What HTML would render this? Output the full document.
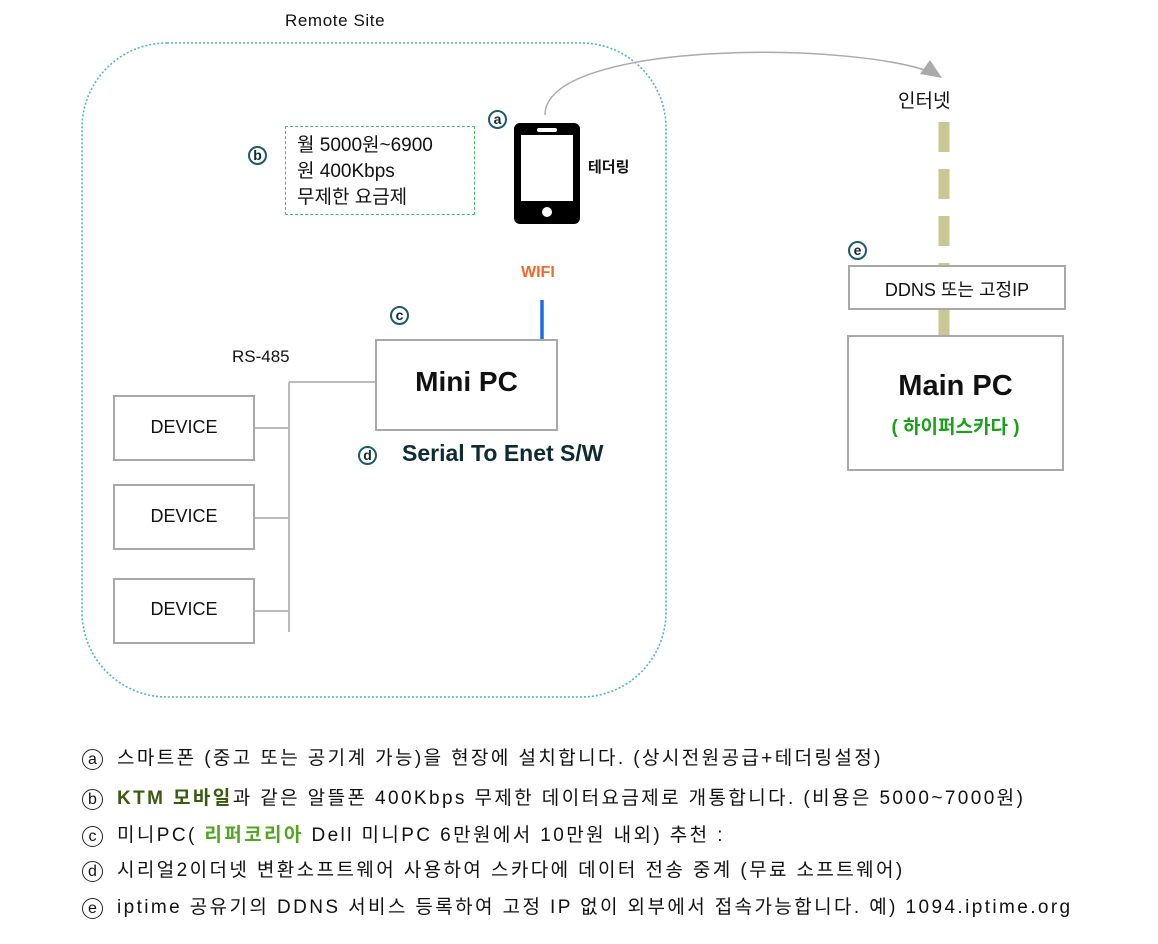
<!DOCTYPE html>
<html><head><meta charset="utf-8"><style>
body{margin:0;width:1158px;height:944px;background:#fff;position:relative;overflow:hidden;font-family:"Liberation Sans","Noto Sans CJK KR",sans-serif;color:#111}
.a{position:absolute;white-space:nowrap}
.box{position:absolute;border:2px solid #a8a8a8;background:#fff;box-sizing:border-box}
.c{position:absolute;width:19px;height:19px;border:2px solid #1d5a6a;border-radius:50%;box-sizing:border-box;font:bold 14px/15px "Liberation Sans",sans-serif;text-align:center;color:#0b2a33}
.leg{position:absolute;left:82px;font-size:19px;letter-spacing:2.4px;color:#111;white-space:nowrap}
.leg span.o{display:inline-block;width:21px;height:21px;border:1.5px solid #222;border-radius:50%;text-align:center;font-size:16px;line-height:19px;margin-right:14px;box-sizing:border-box;letter-spacing:0}
</style></head><body>
<svg width="1158" height="944" style="position:absolute;left:0;top:0">
<rect x="82" y="43" width="584" height="654" rx="85" fill="none" stroke="#4db7bd" stroke-width="1.6" stroke-dasharray="2,2"/>
<path d="M545 115 C 545 40, 860 40, 938 75" fill="none" stroke="#aaa" stroke-width="1.5"/>
<polygon points="942,78 920,74 930,60" fill="#aaa"/>
<line x1="944" y1="122" x2="944" y2="336" stroke="#c9c796" stroke-width="11" stroke-dasharray="30,17"/>
<line x1="542" y1="300" x2="542" y2="340" stroke="#1a6cf0" stroke-width="3.5"/>
<g stroke="#bbb" stroke-width="2" fill="none">
<line x1="289" y1="382" x2="289" y2="632"/>
<line x1="289" y1="382" x2="376" y2="382"/>
<line x1="254" y1="428" x2="289" y2="428"/>
<line x1="254" y1="518" x2="289" y2="518"/>
<line x1="254" y1="611" x2="289" y2="611"/>
</g>
<rect x="514" y="123" width="66" height="101" rx="6" fill="#000"/>
<rect x="521" y="135" width="52" height="66" fill="#fff"/>
<rect x="537" y="128" width="20" height="4" rx="2" fill="#fff"/>
<circle cx="547" cy="212" r="5" fill="#fff"/>
</svg>
<div class="a" style="left:285px;top:11px;font-size:17px;letter-spacing:0.6px">Remote Site</div>
<div class="c" style="left:488px;top:110px">a</div>
<div class="c" style="left:248px;top:146px">b</div>
<div class="a" style="left:588px;top:156px;font-size:15px;font-weight:bold">테더링</div>
<div style="position:absolute;left:285px;top:126px;width:190px;height:89px;border:1.5px dashed #3fbf6a;box-sizing:border-box"></div>
<div class="a" style="left:297px;top:133px;font-size:19px;line-height:26px">월 5000원~6900<br>원 400Kbps<br>무제한 요금제</div>
<div class="a" style="left:521px;top:264px;font-size:16px;font-weight:bold;color:#f26a2a">WIFI</div>
<div class="c" style="left:390px;top:306px">c</div>
<div class="a" style="left:232px;top:347px;font-size:17px">RS-485</div>
<div class="box" style="left:375px;top:339px;width:183px;height:92px"></div>
<div class="a" style="left:375px;top:366px;width:183px;text-align:center;font-size:28px;font-weight:bold">Mini PC</div>
<div class="c" style="left:358px;top:446px">d</div>
<div class="a" style="left:402px;top:440px;font-size:23px;font-weight:bold;color:#0e2a33">Serial To Enet S/W</div>
<div class="box" style="left:113px;top:395px;width:142px;height:66px"></div>
<div class="box" style="left:113px;top:484px;width:142px;height:66px"></div>
<div class="box" style="left:113px;top:578px;width:142px;height:66px"></div>
<div class="a" style="left:113px;top:417px;width:142px;text-align:center;font-size:18px">DEVICE</div>
<div class="a" style="left:113px;top:506px;width:142px;text-align:center;font-size:18px">DEVICE</div>
<div class="a" style="left:113px;top:599px;width:142px;text-align:center;font-size:18px">DEVICE</div>
<div class="a" style="left:898px;top:86px;font-size:19px">인터넷</div>
<div class="c" style="left:848px;top:241px">e</div>
<div class="box" style="left:848px;top:265px;width:218px;height:45px"></div>
<div class="a" style="left:848px;top:276px;width:218px;text-align:center;font-size:18px">DDNS 또는 고정IP</div>
<div class="box" style="left:847px;top:335px;width:217px;height:136px"></div>
<div class="a" style="left:847px;top:370px;width:217px;text-align:center;font-size:29px;font-weight:bold">Main PC</div>
<div class="a" style="left:847px;top:412px;width:217px;text-align:center;font-size:19px;font-weight:bold;color:#1aa01a">( 하이퍼스카다 )</div>
<div class="leg" style="top:743px"><span class="o">a</span>스마트폰 (중고 또는 공기계 가능)을 현장에 설치합니다. (상시전원공급+테더링설정)</div>
<div class="leg" style="top:783px"><span class="o">b</span><b style="color:#3a5a10">KTM 모바일</b>과 같은 알뜰폰 400Kbps 무제한 데이터요금제로 개통합니다. (비용은 5000~7000원)</div>
<div class="leg" style="top:820px"><span class="o">c</span>미니PC( <b style="color:#52a51e">리퍼코리아</b> Dell 미니PC 6만원에서 10만원 내외) 추천 :</div>
<div class="leg" style="top:855px"><span class="o">d</span>시리얼2이더넷 변환소프트웨어 사용하여 스카다에 데이터 전송 중계 (무료 소프트웨어)</div>
<div class="leg" style="top:892px"><span class="o">e</span>iptime 공유기의 DDNS 서비스 등록하여 고정 IP 없이 외부에서 접속가능합니다. 예) 1094.iptime.org</div>
</body></html>
